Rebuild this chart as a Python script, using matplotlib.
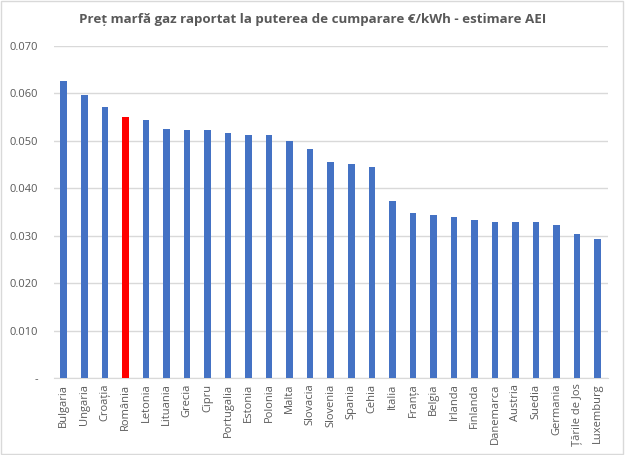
import numpy as np
import matplotlib.pyplot as plt
from matplotlib.ticker import FuncFormatter

# date
tari = ['Bulgaria', 'Ungaria', 'Croația', 'România', 'Letonia', 'Lituania', 'Grecia',
        'Cipru', 'Portugalia', 'Estonia', 'Polonia', 'Malta', 'Slovacia', 'Slovenia',
        'Spania', 'Cehia', 'Italia', 'Franța', 'Belgia', 'Irlanda', 'Finlanda',
        'Danemarca', 'Austria', 'Suedia', 'Germania', 'Țările de Jos', 'Luxemburg']
pret = [0.0627, 0.0596, 0.0571, 0.0550, 0.0545, 0.0525, 0.0523,
        0.0522, 0.0517, 0.0512, 0.0512, 0.0500, 0.0482, 0.0455,
        0.0452, 0.0445, 0.0374, 0.0347, 0.0344, 0.0340, 0.0333,
        0.0328, 0.0328, 0.0328, 0.0322, 0.0304, 0.0293]
culori = ['#FF0000' if t == 'România' else '#4472C4' for t in tari]

plt.rcParams['font.family'] = ['Open Sans', 'DejaVu Sans']
gri = '#595959'

fig = plt.figure(figsize=(6.25, 4.55), dpi=100)
ax = fig.add_axes([53.5/625, 1 - 378/455, (608 - 53.5)/625, (378 - 46)/455])

x = np.arange(len(tari))
ax.bar(x, pret, width=0.32, color=culori, zorder=3)

ax.set_ylim(0, 0.070)
ax.set_xlim(-0.5, len(tari) - 0.5)
ax.set_yticks(np.arange(0, 0.0701, 0.010))
ax.yaxis.set_major_formatter(FuncFormatter(lambda v, p: '-' if v == 0 else f'{v:.3f}'))
ax.grid(axis='y', color='#D9D9D9', linewidth=1, zorder=0)
ax.set_xticks(x)
ax.set_xticklabels(tari, rotation=90, fontsize=8, color=gri)
ax.tick_params(axis='y', labelsize=8, colors=gri, length=0, pad=11)
ax.tick_params(axis='x', length=0, pad=4)
for s in ['top', 'right', 'left']:
    ax.spines[s].set_visible(False)
ax.spines['bottom'].set_color('#D9D9D9')

fig.text(0.5, 1 - 19/455, 'Preț marfă gaz raportat la puterea de cumparare €/kWh - estimare AEI',
         ha='center', va='center', fontsize=9.6, fontweight='bold', color=gri)

# chenar exterior
fig.patches.append(plt.Rectangle((0.002, 0.003), 0.995, 0.994, transform=fig.transFigure,
                                 fill=False, edgecolor='#D9D9D9', linewidth=1))

plt.savefig('out.png', dpi=100)
